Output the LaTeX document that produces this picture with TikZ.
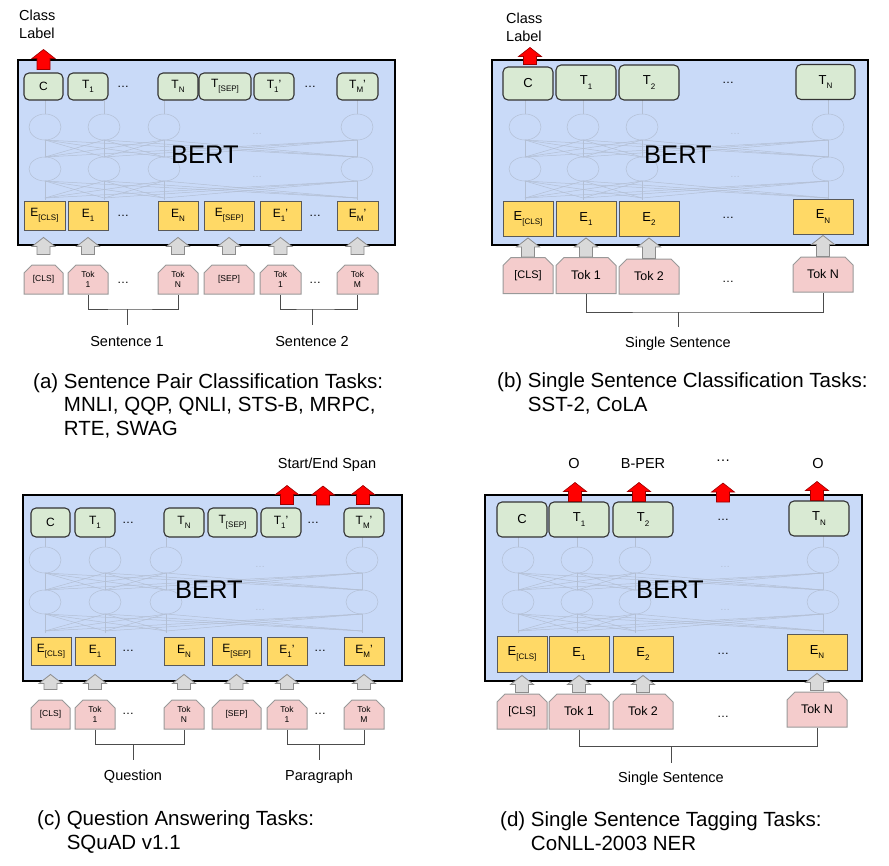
\documentclass[tikz,border=0pt]{standalone}
\usepackage{fontspec}
\setmainfont{Liberation Sans}
\usepackage{tikz}
\usetikzlibrary{arrows.meta,calc,positioning,shapes.misc}

\definecolor{bertblue}{HTML}{C9DAF8}
\definecolor{tgreen}{HTML}{D9EAD3}
\definecolor{eyellow}{HTML}{FFD966}
\definecolor{tokpink}{HTML}{F4CCCC}
\definecolor{netgray}{HTML}{B3BFD4}
\definecolor{darkred}{HTML}{990000}

\newcommand{\lowsub}[1]{\raisebox{-0.32em}{\fontsize{8}{8}\selectfont #1}}
% block arrow, base point -> tip point
\newcommand{\blkarrow}[3]{%
  \path[#1] let \p1=(#2), \p2=(#3) in
    (\x1-6.5pt,\y1) -- (\x1-6.5pt,\y2-9pt) -- (\x1-11.5pt,\y2-9pt) -- (\x1,\y2)
    -- (\x1+11.5pt,\y2-9pt) -- (\x1+6.5pt,\y2-9pt) -- (\x1+6.5pt,\y1) -- cycle;}
% faint layers inside BERT: columns, upper row, lower row, dots
\newcommand{\bertnet}[4]{%
  \foreach \xa in {#1} {
    \draw[netline] (\xa,#2) ellipse (16pt and 13pt);
    \draw[netline] (\xa,#3) ellipse (16pt and 12pt);
    \draw[netline] (\xa,#2-13) -- (\xa,#2-27);
    \draw[netline] (\xa,#3+12) -- (\xa,#3+31);
    \foreach \xb in {#1} {
      \draw[netline] (\xa,#3-12) -- (\xb,#2+13);
      \draw[netline] (\xa,#3+29) -- (\xb,#3+12);
    }
  }
  \node[netdots] at (#4,#2+7) {\dots};
  \node[netdots] at (#4,#3+8) {\dots};}

\begin{document}
\begin{tikzpicture}[
  x=1pt, y=-1pt,
  bert/.style={draw=black, line width=2.6pt, fill=bertblue},
  bertlbl/.style={font=\fontsize{25.5}{26}\selectfont, inner sep=0pt},
  tbox/.style={draw=black!80, line width=1.1pt, fill=tgreen, rounded corners=5pt, inner sep=0pt,
    minimum width=40pt, minimum height=27pt, font=\fontsize{12}{12}\selectfont},
  ebox/.style={draw=black!65, line width=0.9pt, fill=eyellow, inner sep=0pt,
    minimum width=40pt, minimum height=29pt, font=\fontsize{12}{12}\selectfont},
  tok/.style={chamfered rectangle, chamfered rectangle corners={north west,north east},
    chamfered rectangle xsep=4pt, chamfered rectangle ysep=4pt, draw=black!40, line width=1pt,
    fill=tokpink, inner sep=0pt, minimum width=40pt, minimum height=29pt, align=center,
    font=\fontsize{8.5}{10.5}\selectfont},
  bigbox/.style={minimum width=60pt, minimum height=35pt, font=\fontsize{13}{13}\selectfont},
  bigtok/.style={minimum width=60pt, minimum height=36pt, font=\fontsize{12.5}{13}\selectfont},
  elide/.style={font=\fontsize{12}{12}\selectfont, inner sep=0pt},
  netline/.style={draw=netgray, line width=0.5pt},
  netdots/.style={text=netgray, font=\fontsize{10}{10}\selectfont, inner sep=0pt},
  redarr/.style={draw=darkred, fill=red, line width=0.6pt},
  greyarr/.style={draw=black!45, fill=black!15, line width=0.8pt},
  brk/.style={draw=black!70, line width=1pt},
  lbl/.style={font=\fontsize{14.5}{18}\selectfont, inner sep=0pt},
  captxt/.style={font=\fontsize{20.5}{23.5}\selectfont, align=left, anchor=base west, inner sep=0pt}
]
\useasboundingbox (0,0) rectangle (889,865);

% (a) sentence pair classification
\node[bert, minimum width=377pt, minimum height=185pt] (abert) at (206.5,152.5) {};
\bertnet{45,104,164,357}{127}{169}{257}
\node[bertlbl] (abl) at (205,155) {BERT};
\node[tbox, minimum width=39pt] (ac) at (43.5,86.5) {C};
\node[tbox] (at1) at (88,86.5) {T\lowsub{1}};
\node[elide] (adt1) at (123,86.5) {\dots};
\node[tbox] (atn) at (178,86.5) {T\lowsub{N}};
\node[tbox, minimum width=52pt] (atsep) at (225,86.5) {T\lowsub{[SEP]}};
\node[tbox] (at1p) at (274,86.5) {T\lowsub{1}'};
\node[elide] (adt2) at (310,86.5) {\dots};
\node[tbox, minimum width=41pt] (atmp) at (357.5,86.5) {T\lowsub{M}'};
\node[ebox, minimum width=41pt] (aecls) at (44.5,215.5) {E\lowsub{[CLS]}};
\node[ebox] (ae1) at (88,215.5) {E\lowsub{1}};
\node[elide] (ade1) at (123,215.5) {\dots};
\node[ebox] (aen) at (178,215.5) {E\lowsub{N}};
\node[ebox, minimum width=50pt] (aesep) at (229,215.5) {E\lowsub{[SEP]}};
\node[ebox, minimum width=41pt] (ae1p) at (280.5,215.5) {E\lowsub{1}'};
\node[elide] (ade2) at (315,215.5) {\dots};
\node[ebox, minimum width=41pt] (aemp) at (357.5,215.5) {E\lowsub{M}'};
\node[tok, minimum width=39pt] (akcls) at (43.5,279.5) {[CLS]};
\node[tok] (ak1) at (88,279.5) {Tok\\1};
\node[elide] (adk1) at (123,283) {\dots};
\node[tok] (akn) at (178,279.5) {Tok\\N};
\node[tok, minimum width=50pt] (aksep) at (229,279.5) {[SEP]};
\node[tok, minimum width=41pt] (ak1p) at (280.5,279.5) {Tok\\1};
\node[elide] (adk2) at (315,283) {\dots};
\node[tok, minimum width=41pt] (akm) at (357.5,279.5) {Tok\\M};
\blkarrow{greyarr}{$(akcls.north)+(0,-10)$}{$(aecls.south)+(0,7)$}
\blkarrow{greyarr}{$(ak1.north)+(0,-10)$}{$(ae1.south)+(0,7)$}
\blkarrow{greyarr}{$(akn.north)+(0,-10)$}{$(aen.south)+(0,7)$}
\blkarrow{greyarr}{$(aksep.north)+(0,-10)$}{$(aesep.south)+(0,7)$}
\blkarrow{greyarr}{$(ak1p.north)+(0,-10)$}{$(ae1p.south)+(0,7)$}
\blkarrow{greyarr}{$(akm.north)+(0,-10)$}{$(aemp.south)+(0,7)$}
\blkarrow{redarr}{$(ac.north)+(0,-3)$}{$(ac.north)+(0,-23)$}
\node[lbl, align=left, anchor=west] (aclass) at (19,24) {Class\\Label};
\coordinate (abr1) at (127,309);
\draw[brk] (ak1.south) |- (abr1) -| (akn.south);
\draw[brk] (abr1) -- ++(0,16);
\node[lbl] (asent1) at (127,342) {Sentence 1};
\coordinate (abr2) at (312,309);
\draw[brk] (ak1p.south) |- (abr2) -| (akm.south);
\draw[brk] (abr2) -- ++(0,16);
\node[lbl] (asent2) at (312,342) {Sentence 2};
\node[captxt] (acap) at (33,435) {(a) Sentence Pair Classification Tasks:\\
  \phantom{(a) }MNLI, QQP, QNLI, STS-B, MRPC,\\\phantom{(a) }RTE, SWAG};

% (b) single sentence classification
\node[bert, minimum width=376pt, minimum height=185pt] (bbert) at (680,152.5) {};
\bertnet{525,583,642,828}{127}{169}{735}
\node[bertlbl] (bbl) at (678,155) {BERT};
\node[tbox, bigbox, minimum width=50pt, minimum height=33pt] (bc) at (528,83.5) {C};
\node[tbox, bigbox] (bt1) at (586,82.5) {T\lowsub{1}};
\node[tbox, bigbox] (bt2) at (649,82.5) {T\lowsub{2}};
\node[elide] (bdt) at (728,83) {\dots};
\node[tbox, bigbox, minimum width=59pt] (btn) at (825.5,82) {T\lowsub{N}};
\node[ebox, bigbox, minimum width=50pt] (becls) at (528,219) {E\lowsub{[CLS]}};
\node[ebox, bigbox] (be1) at (586,219) {E\lowsub{1}};
\node[ebox, bigbox] (be2) at (649,219) {E\lowsub{2}};
\node[elide] (bde) at (728,218) {\dots};
\node[ebox, bigbox] (ben) at (823,216.5) {E\lowsub{N}};
\node[tok, bigtok, minimum width=50pt, font=\fontsize{11}{11}\selectfont] (bkcls) at (528,275.5) {[CLS]};
\node[tok, bigtok] (bk1) at (586,275.5) {Tok 1};
\node[tok, bigtok, minimum height=35pt] (bk2) at (649,276.5) {Tok 2};
\node[elide] (bdk) at (728,282) {\dots};
\node[tok, bigtok, minimum height=35pt] (bkn) at (823,274.5) {Tok N};
\blkarrow{greyarr}{bkcls.north}{$(becls.south)+(0,1)$}
\blkarrow{greyarr}{bk1.north}{$(be1.south)+(0,1)$}
\blkarrow{greyarr}{bk2.north}{$(be2.south)+(0,1)$}
\blkarrow{greyarr}{bkn.north}{$(ben.south)+(0,1)$}
\blkarrow{redarr}{$(bc.north)+(2,-2)$}{$(bc.north)+(2,-19)$}
\node[lbl, align=left, anchor=west] (bclass) at (506,27.5) {Class\\Label};
\coordinate (bbr) at (678,312);
\draw[brk] (bk1.south) |- (bbr) -| (bkn.south);
\draw[brk] (bbr) -- ++(0,15);
\node[lbl] (bsent) at (678,344) {Single Sentence};
\node[captxt] (bcap) at (497,411) {(b) Single Sentence Classification Tasks:\\
  \phantom{(b) }SST-2, CoLA};

% (c) question answering
\node[bert, minimum width=379pt, minimum height=186pt] (cbert) at (212.5,588) {};
\bertnet{45,105,166,362}{560}{602}{260}
\node[bertlbl] (cbl) at (209,590) {BERT};
\node[tbox, minimum width=39pt, minimum height=29pt] (cc) at (50.5,522.5) {C};
\node[tbox, minimum height=29pt] (ct1) at (95,522.5) {T\lowsub{1}};
\node[elide] (cdt1) at (128,522.5) {\dots};
\node[tbox, minimum height=29pt] (ctn) at (184,522.5) {T\lowsub{N}};
\node[tbox, minimum width=49pt, minimum height=29pt] (ctsep) at (232.5,522.5) {T\lowsub{[SEP]}};
\node[tbox, minimum height=29pt] (ct1p) at (281,522.5) {T\lowsub{1}'};
\node[elide] (cdt2) at (313,522.5) {\dots};
\node[tbox, minimum height=29pt] (ctmp) at (364,522.5) {T\lowsub{M}'};
\node[ebox, minimum height=28pt] (cecls) at (51,651) {E\lowsub{[CLS]}};
\node[ebox, minimum height=28pt] (ce1) at (95,651) {E\lowsub{1}};
\node[elide] (cde1) at (128,651) {\dots};
\node[ebox, minimum height=28pt] (cen) at (184,651) {E\lowsub{N}};
\node[ebox, minimum width=49pt, minimum height=28pt] (cesep) at (236.5,651) {E\lowsub{[SEP]}};
\node[ebox, minimum height=28pt] (ce1p) at (287,651) {E\lowsub{1}'};
\node[elide] (cde2) at (320,651) {\dots};
\node[ebox, minimum height=28pt] (cemp) at (364,651) {E\lowsub{M}'};
\node[tok, minimum width=39pt] (ckcls) at (50.5,714.5) {[CLS]};
\node[tok] (ck1) at (95,714.5) {Tok\\1};
\node[elide] (cdk1) at (128,714) {\dots};
\node[tok] (ckn) at (184,714.5) {Tok\\N};
\node[tok, minimum width=49pt] (cksep) at (236.5,714.5) {[SEP]};
\node[tok] (ck1p) at (287,714.5) {Tok\\1};
\node[elide] (cdk2) at (320,714) {\dots};
\node[tok] (ckm) at (364,714.5) {Tok\\M};
\blkarrow{greyarr}{$(ckcls.north)+(0,-10)$}{$(cecls.south)+(0,9)$}
\blkarrow{greyarr}{$(ck1.north)+(0,-10)$}{$(ce1.south)+(0,9)$}
\blkarrow{greyarr}{$(ckn.north)+(0,-10)$}{$(cen.south)+(0,9)$}
\blkarrow{greyarr}{$(cksep.north)+(0,-10)$}{$(cesep.south)+(0,9)$}
\blkarrow{greyarr}{$(ck1p.north)+(0,-10)$}{$(ce1p.south)+(0,9)$}
\blkarrow{greyarr}{$(ckm.north)+(0,-10)$}{$(cemp.south)+(0,9)$}
\coordinate (cmid) at (323,508);
\blkarrow{redarr}{$(ct1p.north)+(6,-3)$}{$(ct1p.north)+(6,-22)$}
\blkarrow{redarr}{$(cmid)+(0,-3)$}{$(cmid)+(0,-22)$}
\blkarrow{redarr}{$(ctmp.north)+(-1,-3)$}{$(ctmp.north)+(-1,-22)$}
\node[lbl] (cspan) at (327,465) {Start/End Span};
\coordinate (cbr1) at (133,744);
\draw[brk] (ck1.south) |- (cbr1) -| (ckn.south);
\draw[brk] (cbr1) -- ++(0,16);
\node[lbl] (cquest) at (133,777) {Question};
\coordinate (cbr2) at (319,744);
\draw[brk] (ck1p.south) |- (cbr2) -| (ckm.south);
\draw[brk] (cbr2) -- ++(0,16);
\node[lbl] (cpara) at (319,777) {Paragraph};
\node[captxt] (ccap) at (37,849) {(c) Question Answering Tasks:\\
  \phantom{(c) }SQuAD v1.1};

% (d) single sentence tagging
\node[bert, minimum width=377pt, minimum height=186pt] (dbert) at (673.5,588) {};
\bertnet{518,577,635,823}{560}{602}{725}
\node[bertlbl] (dbl) at (670,590) {BERT};
\node[tbox, bigbox, minimum width=50pt] (dc) at (522,519.5) {C};
\node[tbox, bigbox] (dt1) at (579,519.5) {T\lowsub{1}};
\node[tbox, bigbox] (dt2) at (643,519.5) {T\lowsub{2}};
\node[elide] (ddt) at (723,520) {\dots};
\node[tbox, bigbox] (dtn) at (819,518.5) {T\lowsub{N}};
\node[ebox, bigbox, minimum width=50pt, minimum height=36pt] (decls) at (522,654) {E\lowsub{[CLS]}};
\node[ebox, bigbox, minimum height=36pt] (de1) at (579,654) {E\lowsub{1}};
\node[ebox, bigbox, minimum height=36pt] (de2) at (643,654) {E\lowsub{2}};
\node[elide] (dde) at (723,654) {\dots};
\node[ebox, bigbox, minimum height=36pt] (den) at (817,652) {E\lowsub{N}};
\node[tok, bigtok, minimum width=50pt, minimum height=35pt, font=\fontsize{11}{11}\selectfont] (dkcls) at (522,711.5) {[CLS]};
\node[tok, bigtok, minimum height=35pt] (dk1) at (579,711.5) {Tok 1};
\node[tok, bigtok, minimum height=35pt] (dk2) at (643,711.5) {Tok 2};
\node[elide] (ddk) at (723,717) {\dots};
\node[tok, bigtok, minimum height=35pt] (dkn) at (817,709.5) {Tok N};
\blkarrow{greyarr}{$(dkcls.north)+(0,-1)$}{$(decls.south)+(0,3)$}
\blkarrow{greyarr}{$(dk1.north)+(0,-1)$}{$(de1.south)+(0,3)$}
\blkarrow{greyarr}{$(dk2.north)+(0,-1)$}{$(de2.south)+(0,3)$}
\blkarrow{greyarr}{$(dkn.north)+(0,-1)$}{$(den.south)+(0,3)$}
\blkarrow{redarr}{$(dt1.north)+(-4,0)$}{$(dt1.north)+(-4,-19)$}
\blkarrow{redarr}{$(dt2.north)+(-4,0)$}{$(dt2.north)+(-4,-19)$}
\blkarrow{redarr}{$(ddt.center)+(0,-18)$}{$(ddt.center)+(0,-37)$}
\blkarrow{redarr}{$(dtn.north)+(-2,0)$}{$(dtn.north)+(-2,-19)$}
\node[lbl] (do1) at (574,464) {O};
\node[lbl] (dbper) at (643,464) {B-PER};
\node[lbl] (ddots) at (723,461) {\dots};
\node[lbl] (do2) at (818,464) {O};
\coordinate (dbr) at (671,746);
\draw[brk] (dk1.south) |- (dbr) -| (dkn.south);
\draw[brk] (dbr) -- ++(0,17);
\node[lbl] (dsent) at (671,779) {Single Sentence};
\node[captxt] (dcap) at (500,850) {(d) Single Sentence Tagging Tasks:\\
  \phantom{(d) }CoNLL-2003 NER};
\end{tikzpicture}
\end{document}
